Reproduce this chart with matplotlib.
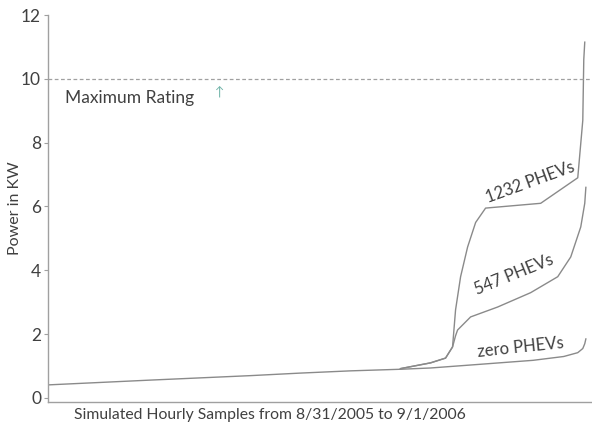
# Load duration curves for a distribution transformer with and without PHEVs
import matplotlib.pyplot as plt

hours_base = [0, 1664, 3295, 4110, 4926, 5741, 6230]
kw_base = [0.41, 0.56, 0.70, 0.78, 0.85, 0.90, 0.94]

hours_zero = [6230, 7000, 7900, 8400, 8628, 8710, 8742, 8760]
kw_zero = [0.94, 1.05, 1.18, 1.30, 1.42, 1.55, 1.70, 1.85]

hours_547 = [5741, 6230, 6475, 6589, 6638, 6671, 6883, 7323, 7861, 8302, 8514, 8677, 8742, 8760]
kw_547 = [0.92, 1.10, 1.25, 1.60, 1.95, 2.13, 2.54, 2.85, 3.30, 3.80, 4.42, 5.36, 6.10, 6.60]

hours_1232 = [5741, 6230, 6475, 6589, 6638, 6720, 6834, 6965, 7127, 8024, 8628, 8710, 8726, 8742]
kw_1232 = [0.92, 1.10, 1.25, 1.60, 2.76, 3.80, 4.73, 5.50, 5.95, 6.10, 6.90, 8.70, 10.60, 11.15]

max_rating = 10
yticks = [0, 2, 4, 6, 8, 10, 12]

grey = "#8a8a8a"
txt = "#404040"
plt.rcParams["font.family"] = ["Lato", "DejaVu Sans"]

fig = plt.figure(figsize=(5.92, 4.29), dpi=100)
ax = fig.add_axes([0.081, 0.063, 0.919, 0.902])

ax.plot(hours_base + hours_zero[1:], kw_base + kw_zero[1:], color=grey, lw=1)
ax.plot(hours_547, kw_547, color=grey, lw=1)
ax.plot(hours_1232, kw_1232, color=grey, lw=1)
ax.axhline(max_rating, color="#a0a0a0", lw=0.9, ls=(0, (3, 2)))

ax.text(280, 9.4, "Maximum Rating", fontsize=12.5, color=txt, va="center")
ax.text(2720, 9.6, "\u2191", fontsize=9, color="#6fb3a8", va="center")
ax.text(7861, 6.77, "1232 PHEVs", fontsize=12, color=txt, rotation=20,
        ha="center", va="center", rotation_mode="anchor")
ax.text(7584, 3.86, "547 PHEVs", fontsize=12, color=txt, rotation=22,
        ha="center", va="center", rotation_mode="anchor")
ax.text(7698, 1.57, "zero PHEVs", fontsize=12, color=txt, rotation=6,
        ha="center", va="center", rotation_mode="anchor")

ax.set_xlim(0, 8860)
ax.set_ylim(-0.125, 12)
ax.set_yticks(yticks)
ax.set_xticks([])
ax.tick_params(axis="y", colors="#a0a0a0", labelcolor=txt, labelsize=12.5, length=3, width=0.8, pad=2)
for s in ["top", "right"]:
    ax.spines[s].set_visible(False)
for s in ["left", "bottom"]:
    ax.spines[s].set_color("#a0a0a0")
    ax.spines[s].set_linewidth(1)

fig.text(0.026, 0.515, "Power in KW", fontsize=11.5, color=txt, rotation=90,
         ha="center", va="center")
fig.text(0.456, 0.032, "Simulated Hourly Samples from 8/31/2005 to 9/1/2006",
         fontsize=11.3, color=txt, ha="center", va="center")

fig.savefig("out.png", dpi=100)
